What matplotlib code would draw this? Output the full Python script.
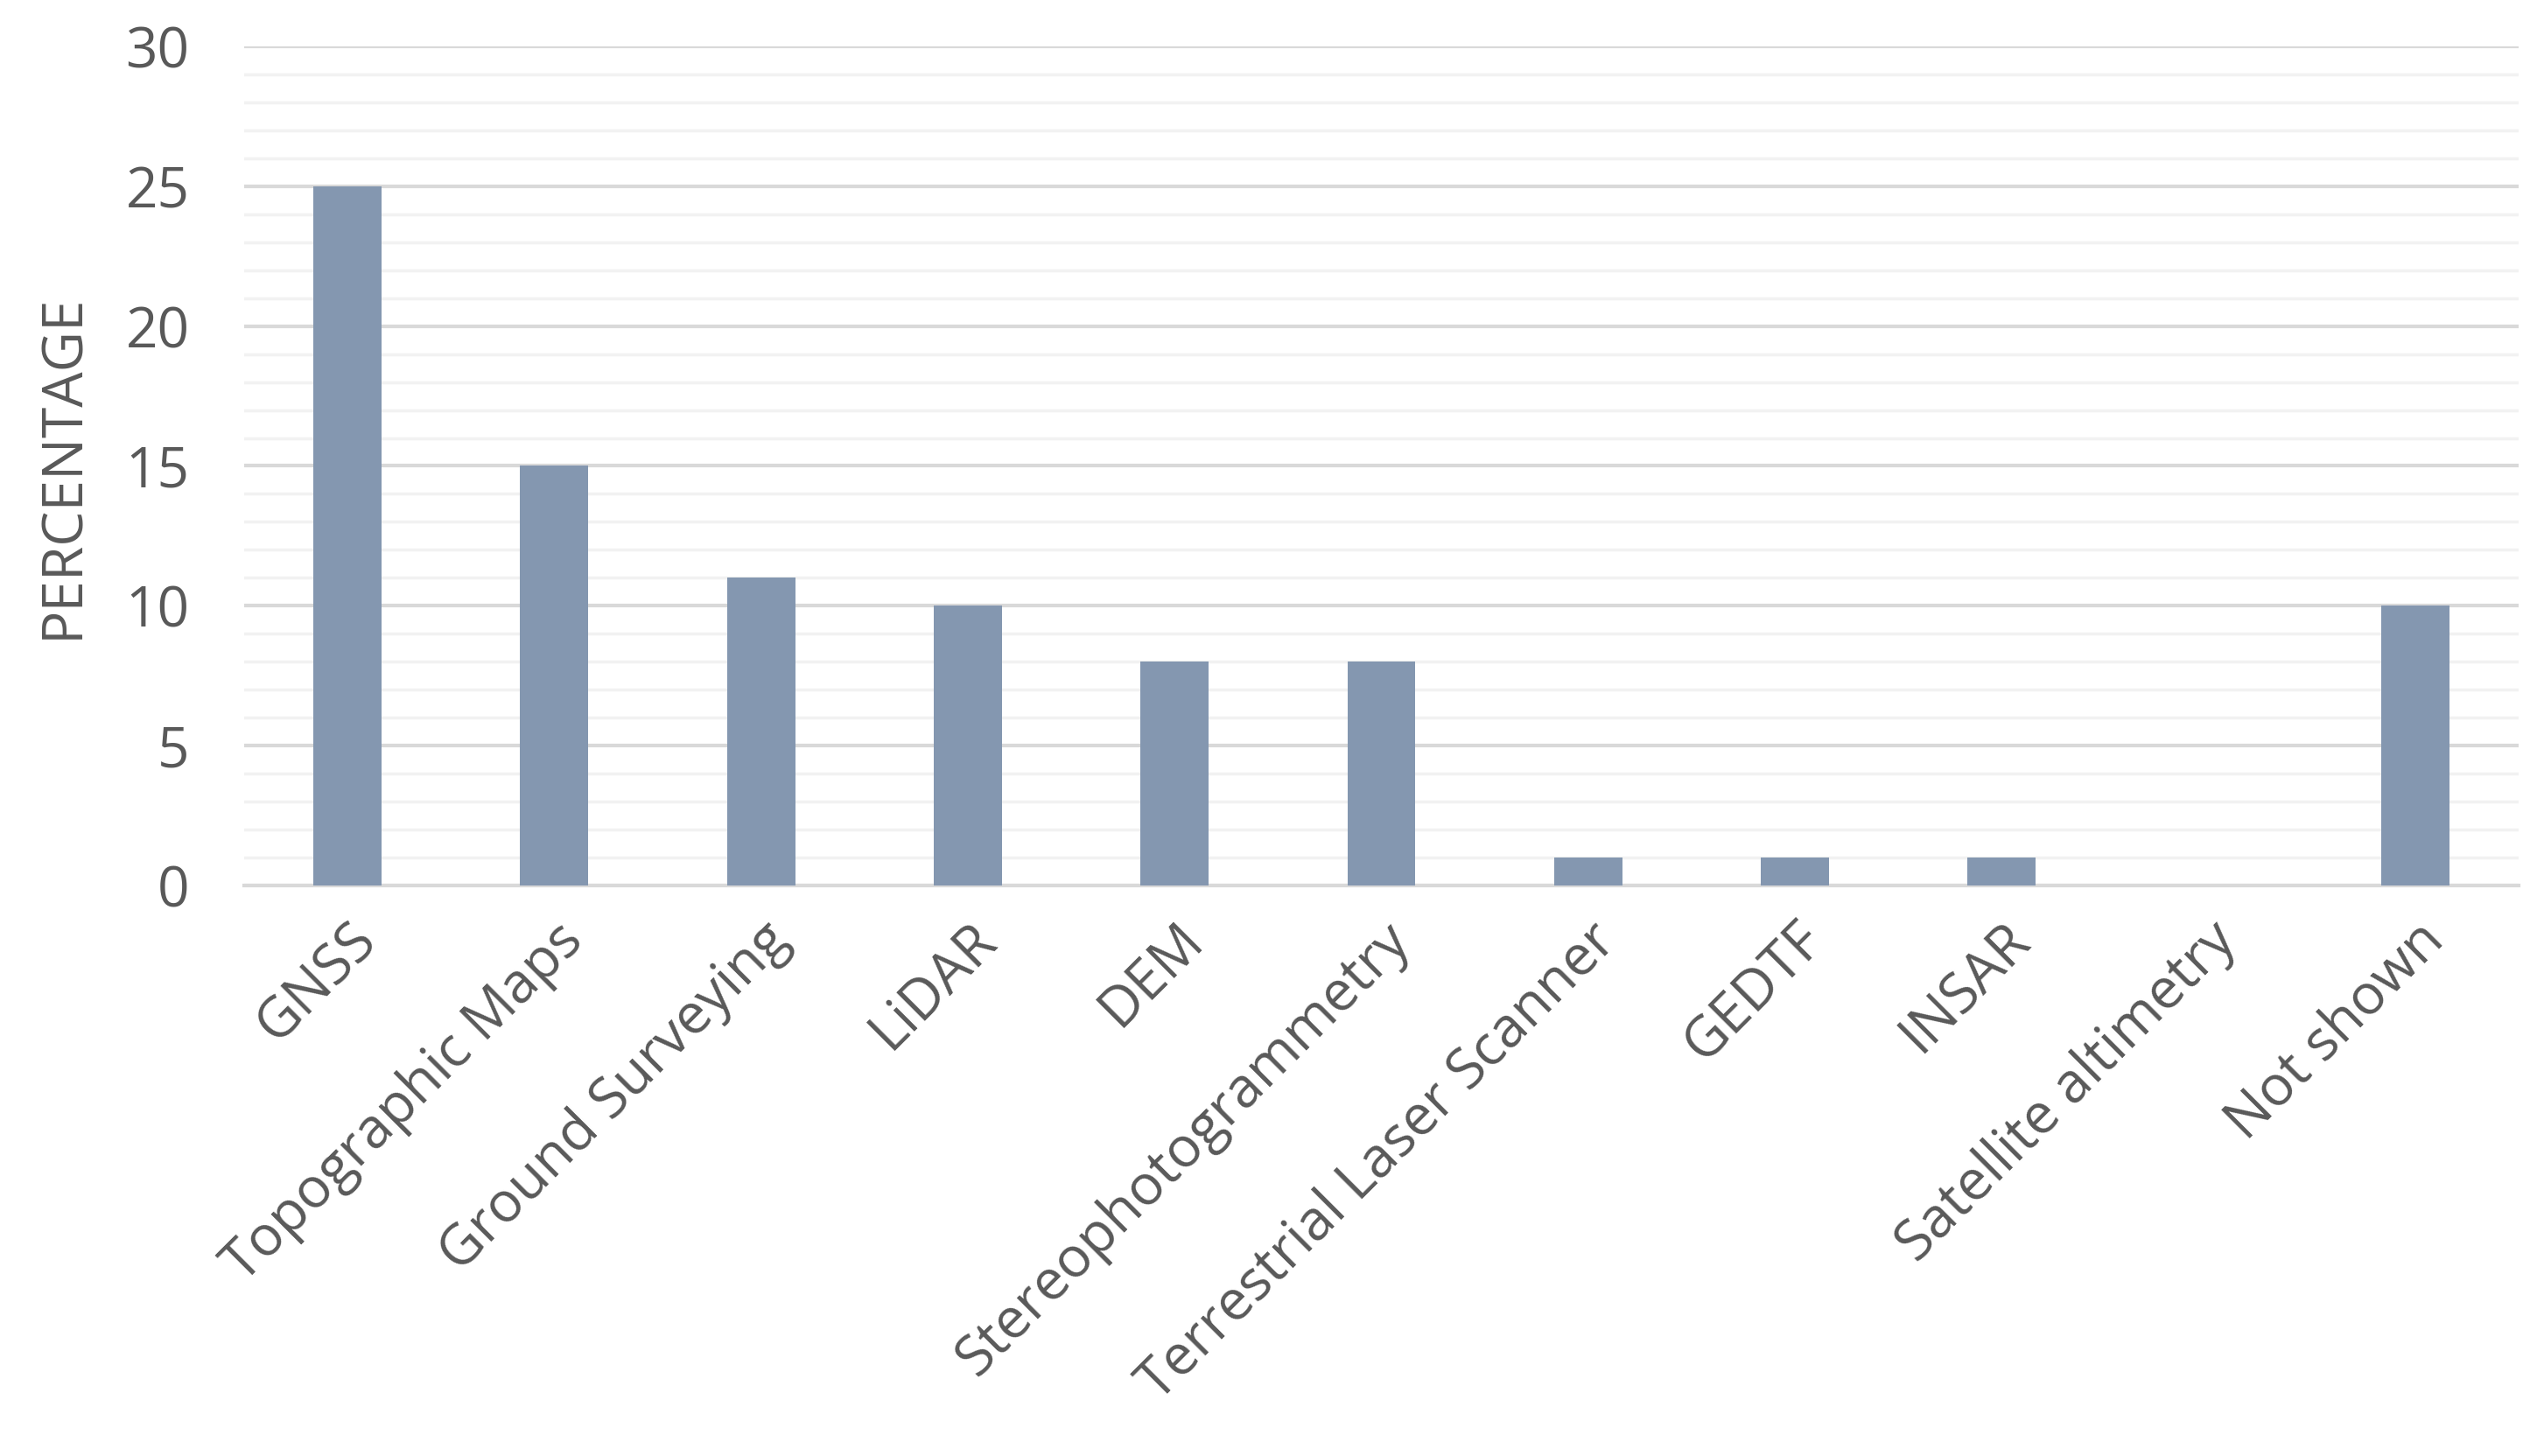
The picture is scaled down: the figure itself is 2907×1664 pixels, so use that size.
import matplotlib
matplotlib.use("Agg")
import matplotlib.pyplot as plt
from matplotlib.ticker import MultipleLocator

categories = ["GNSS", "Topographic Maps", "Ground Surveying", "LiDAR", "DEM",
              "Stereophotogrammetry", "Terrestrial Laser Scanner", "GEDTF", "INSAR",
              "Satellite altimetry", "Not shown"]
values = [25, 15, 11, 10, 8, 8, 1, 1, 1, 0, 10]

plt.rcParams['font.family'] = ['Open Sans', 'DejaVu Sans']
fig = plt.figure(figsize=(29.07, 16.64), dpi=100)
ax = fig.add_axes([0.096, 0.392, 0.894, 0.576])
x = range(len(categories))
ax.bar(x, values, width=0.33, color="#8497B0", zorder=3)
ax.set_ylim(0, 30)
ax.set_xlim(-0.5, len(categories) - 0.5)
ax.yaxis.set_major_locator(MultipleLocator(5))
ax.yaxis.set_minor_locator(MultipleLocator(1))
ax.grid(axis='y', which='major', color='#D9D9D9', linewidth=3, zorder=0)
ax.grid(axis='y', which='minor', color='#F2F2F2', linewidth=2.5, zorder=0)
for s in ['top', 'right', 'left']:
    ax.spines[s].set_visible(False)
ax.spines['bottom'].set_color('#D9D9D9')
ax.spines['bottom'].set_linewidth(3)
ax.tick_params(axis='both', which='both', length=0, labelsize=46, colors='#595959')
ax.tick_params(axis='y', pad=45)
ax.tick_params(axis='x', pad=22)
ax.set_xticks(list(x))
ax.set_xticklabels(categories, rotation=45, ha='right', rotation_mode='anchor')
ax.set_ylabel("PERCENTAGE", fontsize=46, color='#595959', labelpad=28)
fig.savefig("out.png", dpi=100)
